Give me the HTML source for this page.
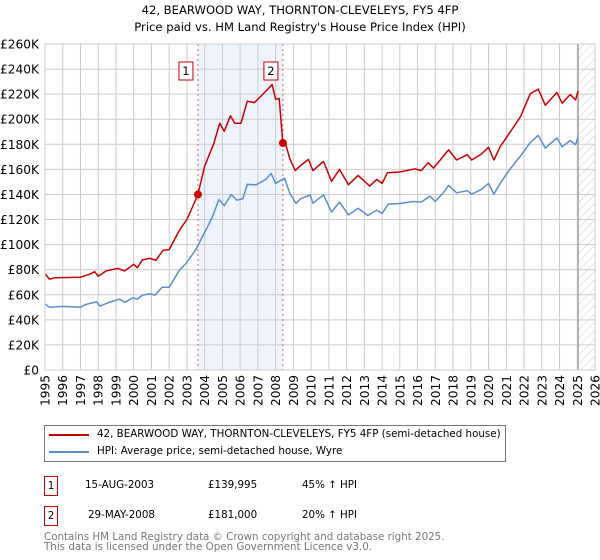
<!DOCTYPE html>
<html><head><meta charset="utf-8">
<style>
body{margin:0;background:#fff;font-family:"Liberation Sans","DejaVu Sans",sans-serif;}
#wrap{position:relative;width:600px;height:560px;overflow:hidden;}
svg text{font-family:"DejaVu Sans","Liberation Sans",sans-serif;}
</style></head>
<body>
<div id="wrap">
<svg id="chart" width="600" height="560" xmlns="http://www.w3.org/2000/svg">
<defs>
<pattern id="hatch" width="6" height="6" patternUnits="userSpaceOnUse" patternTransform="rotate(45)">
<line x1="0" y1="0" x2="0" y2="6" stroke="#ccc" stroke-width="1"/>
</pattern>
</defs>
<text x="300" y="14" text-anchor="middle" font-size="11.6" fill="#000">42, BEARWOOD WAY, THORNTON-CLEVELEYS, FY5 4FP</text>
<text x="300" y="31" text-anchor="middle" font-size="11.6" fill="#000">Price paid vs. HM Land Registry's House Price Index (HPI)</text>
<g id="grid"></g>
<g id="marks"></g>
<g id="axes"></g>
</svg>
<div style="position:absolute;left:44px;top:425px;width:460px;height:35px;border:1px solid #777;font-size:10.3px;font-family:'DejaVu Sans','Liberation Sans',sans-serif;">
 <div style="position:absolute;left:4px;top:8px;width:40px;height:2px;background:#cc0000"></div>
 <div style="position:absolute;left:52px;top:2px;white-space:nowrap">42, BEARWOOD WAY, THORNTON-CLEVELEYS, FY5 4FP (semi-detached house)</div>
 <div style="position:absolute;left:4px;top:25px;width:40px;height:2px;background:#5b8dd0"></div>
 <div style="position:absolute;left:52px;top:19px;white-space:nowrap">HPI: Average price, semi-detached house, Wyre</div>
</div>
<div style="font-size:10.3px;font-family:'DejaVu Sans','Liberation Sans',sans-serif;">
 <div style="position:absolute;left:44px;top:476px;width:12px;height:18px;border:1px solid #cc0000;text-align:center;line-height:18px">1</div>
 <div style="position:absolute;left:85px;top:479px">15-AUG-2003</div>
 <div style="position:absolute;left:208px;top:479px">£139,995</div>
 <div style="position:absolute;left:302px;top:479px">45% ↑ HPI</div>
 <div style="position:absolute;left:44px;top:506px;width:12px;height:18px;border:1px solid #cc0000;text-align:center;line-height:18px">2</div>
 <div style="position:absolute;left:88px;top:509px">29-MAY-2008</div>
 <div style="position:absolute;left:208px;top:509px">£181,000</div>
 <div style="position:absolute;left:302px;top:509px">20% ↑ HPI</div>
</div>
<div style="position:absolute;left:44px;top:532px;font-size:10.3px;color:#777;line-height:10px;font-family:'DejaVu Sans','Liberation Sans',sans-serif;">Contains HM Land Registry data © Crown copyright and database right 2025.<br>This data is licensed under the Open Government Licence v3.0.</div>
</div>
<script>
const hpiYears=[1995.0,1995.25,1996,1997,1997.2,1997.5,1997.9,1998.1,1998.6,1999.2,1999.5,1999.95,2000.2,2000.5,2000.9,2001.2,2001.6,2002.0,2002.6,2002.95,2003.5,2004.1,2004.45,2004.8,2005.1,2005.5,2005.8,2006.15,2006.4,2006.9,2007.45,2007.75,2008.0,2008.5,2008.8,2009.15,2009.4,2009.95,2010.1,2010.7,2011.15,2011.6,2012.1,2012.65,2013.2,2013.7,2014.0,2014.35,2015.0,2015.75,2016.2,2016.7,2017.0,2017.45,2017.75,2018.2,2018.8,2019.05,2019.6,2020.0,2020.3,2020.65,2021.2,2021.8,2022.35,2022.8,2023.2,2023.85,2024.15,2024.6,2024.9,2025.05];
const hpiValues=[52.8,50,50.7,50,51.7,53,54.4,51,53.9,56.5,54,57.6,56.5,59.7,60.8,59.7,66,66,80,85,96,112.5,122.7,136,131,140,135.5,136.5,148,147.7,152,156.8,148.8,153,141,132.8,136.5,139.7,133,139.7,125.9,133.9,123.7,129,123.2,127.5,124.8,132.3,132.8,134.4,133.9,138.7,134.4,141.3,147.2,141.3,143,140.3,144,148.8,140.3,148.8,160,170.7,181.3,187.2,177,185,178,183,179.7,186];
const priceYears=[1995.0,1995.25,1995.6,1997,1997.2,1997.5,1997.8,1998.0,1998.45,1999.1,1999.5,2000.0,2000.2,2000.5,2000.9,2001.25,2001.65,2002.0,2002.6,2003.0,2003.25,2003.62,2004.0,2004.5,2004.85,2005.1,2005.45,2005.7,2006.05,2006.4,2006.8,2007.45,2007.8,2008.0,2008.2,2008.41,2008.55,2008.8,2009.1,2009.4,2009.85,2010.1,2010.7,2011.15,2011.6,2012.1,2012.65,2013.3,2013.7,2014.0,2014.3,2015.0,2015.85,2016.2,2016.6,2016.9,2017.75,2018.2,2018.8,2019.05,2019.6,2020.0,2020.3,2020.65,2021.2,2021.8,2022.35,2022.8,2023.2,2023.85,2024.15,2024.6,2024.9,2025.05];
const priceValues=[76.8,72.5,73.6,74,75,76.3,78.4,74.7,79,81,79,84.3,81.6,88,89,87.5,95.5,96,112,120,128,140,162.7,180,196.8,190.4,202.7,196.8,196.8,214.4,213.3,222.4,227.7,216,216.5,181,180.8,168.5,159,163,168,159,166.4,150.4,160,147.7,155.2,146.7,152,148.8,157.3,157.9,160.5,159,165.3,161,175.5,167.5,171.7,167.5,172.3,177.6,167.5,178,189.3,202,220.3,224,211.2,221.3,212.8,219.7,215.5,222.4];
const saleYears=[2003.62,2008.41];
const saleValues=[139.995,181];
const saleLabels=["1","2"];
const yTicks=[0,20,40,60,80,100,120,140,160,180,200,220,240,260];
const xTicks=[1995,1996,1997,1998,1999,2000,2001,2002,2003,2004,2005,2006,2007,2008,2009,2010,2011,2012,2013,2014,2015,2016,2017,2018,2019,2020,2021,2022,2023,2024,2025,2026];
const dataEnd=2025.05;

const L=45,R=595,T=44,B=370,X0=1995,X1=2026,Ymax=260;
const NS="http://www.w3.org/2000/svg";
function sx(y){return L+(y-X0)/(X1-X0)*(R-L);}
function sy(v){return B-v/Ymax*(B-T);}
function mk(tag,attrs,parent){const e=document.createElementNS(NS,tag);for(const k in attrs)e.setAttribute(k,attrs[k]);parent.appendChild(e);return e;}
const grid=document.getElementById('grid'),marks=document.getElementById('marks'),axes=document.getElementById('axes');

const shade=mk('rect',{x:sx(saleYears[0]),y:T,width:sx(saleYears[1])-sx(saleYears[0]),height:B-T,fill:'#eef3fc'},grid);


const hatch=mk('rect',{x:sx(dataEnd),y:T,width:R-sx(dataEnd),height:B-T,fill:'url(#hatch)'},grid);



yTicks.forEach(v=>{
 const ln=mk('line',{x1:L,x2:R,y1:sy(v),y2:sy(v),stroke:'#ccc','stroke-width':1},grid);
 
 
 const t=mk('text',{x:L-6,y:sy(v)+4.5,'text-anchor':'end','font-size':12.2,fill:'#000'},axes);
 t.textContent=v===0?'£0':'£'+v+'K';
 
 
});
xTicks.forEach(yr=>{
 const ln=mk('line',{x1:sx(yr),x2:sx(yr),y1:T,y2:B,stroke:'#ccc','stroke-width':1},grid);
 
 
 const t=mk('text',{x:0,y:0,'text-anchor':'end','font-size':12.2,fill:'#000',transform:`translate(${sx(yr)+4.5},${B+5}) rotate(-90)`},axes);
 t.textContent=yr;
 
 
});
const endLine=mk('line',{x1:sx(dataEnd),x2:sx(dataEnd),y1:T,y2:B,stroke:'#888','stroke-width':1},grid);



saleYears.forEach((yr,i)=>{
 const d=mk('line',{x1:sx(yr),x2:sx(yr),y1:T,y2:B,stroke:'#e06060','stroke-width':1,'stroke-dasharray':'2,3'},grid);
 
 
 const bx=mk('rect',{x:sx(yr)-19,y:62,width:14,height:18,fill:'#fff',stroke:'#cc0000','stroke-width':1},axes);
 
 
 const tx=mk('text',{x:sx(yr)-12,y:75,'text-anchor':'middle','font-size':11.5,fill:'#000'},axes);
 tx.textContent=saleLabels[i];
 
 
});

function path(xs,vs){return xs.map((x,i)=>(i?'L':'M')+sx(x).toFixed(1)+','+sy(vs[i]).toFixed(1)).join(' ');}
const hp=mk('path',{d:path(hpiYears,hpiValues),fill:'none',stroke:'#5b8dd0','stroke-width':1.5,'stroke-linejoin':'round'},marks);


const pp=mk('path',{d:path(priceYears,priceValues),fill:'none',stroke:'#cc0000','stroke-width':1.5,'stroke-linejoin':'round'},marks);


saleYears.forEach((yr,i)=>{
 const c=mk('circle',{cx:sx(yr),cy:sy(saleValues[i]),r:4,fill:'#cc0000'},marks);
 
 
});
const frame=mk('rect',{x:L,y:T,width:R-L,height:B-T,fill:'none',stroke:'#ccc'},axes);


</script>
</body></html>
